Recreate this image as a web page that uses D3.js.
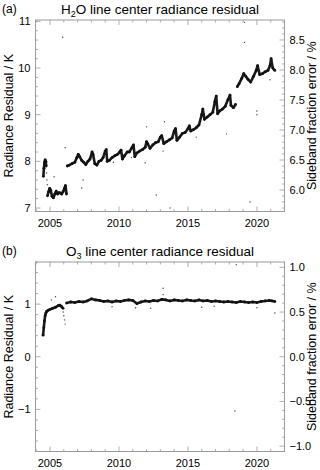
<!DOCTYPE html>
<html>
<head>
<meta charset="utf-8">
<script src="https://cdn.jsdelivr.net/npm/d3@7"></script>
<style>
  body { margin: 0; background: #fff; }
  svg { display: block; font-family: "Liberation Sans", Arial, sans-serif; }
</style>
</head>
<body>
<svg id="chart" width="320" height="470"></svg>
<script>
// H2O residual (K); null breaks the trace
const h2oYears = [
  2004.52, 2004.56, 2004.60, 2004.65, 2004.70, 2004.72, null,
  2004.82, 2004.90, 2004.98, 2005.05, 2005.15, 2005.25, 2005.35, 2005.45, 2005.55,
  2005.65, 2005.75, 2005.85, 2005.95, 2006.05, 2006.12, 2006.20, null,
  2006.25, 2006.40, 2006.60, 2006.80, 2006.95, 2007.05, 2007.15, 2007.30, 2007.45,
  2007.60, 2007.75, 2007.90, 2008.05, 2008.12, 2008.25, 2008.40, 2008.55, 2008.70,
  2008.85, 2009.00, 2009.08, 2009.15, 2009.30, 2009.50, 2009.70, 2009.90, 2010.05,
  2010.15, 2010.25, 2010.40, 2010.60, 2010.75, 2010.95, 2011.05, 2011.15, 2011.30,
  2011.50, 2011.70, 2011.90, 2012.00, 2012.08, 2012.25, 2012.45, 2012.65, 2012.85,
  2013.00, 2013.10, 2013.25, 2013.45, 2013.65, 2013.85, 2014.00, 2014.10, 2014.20,
  2014.40, 2014.60, 2014.80, 2015.00, 2015.10, 2015.20, 2015.40, 2015.60, 2015.80,
  2016.00, 2016.08, 2016.20, 2016.40, 2016.60, 2016.80, 2016.95, 2017.05, 2017.15,
  2017.30, 2017.50, 2017.70, 2017.90, 2018.05, 2018.12, 2018.30, 2018.45, null,
  2018.58, 2018.70, 2018.90, 2019.05, 2019.20, 2019.35, 2019.55, 2019.75, 2019.95,
  2020.05, 2020.20, 2020.40, 2020.60, 2020.80, 2020.95, 2021.03, 2021.15, 2021.30
];
const h2oValues = [
  7.68, 7.85, 7.98, 8.03, 8.00, 7.90, null,
  7.26, 7.35, 7.42, 7.38, 7.25, 7.22, 7.30, 7.36, 7.30,
  7.33, 7.32, 7.30, 7.35, 7.42, 7.48, 7.30, null,
  7.90, 7.92, 7.95, 7.98, 8.08, 8.15, 8.10, 8.02, 7.98,
  7.93, 8.00, 8.05, 8.20, 8.15, 7.95, 7.92, 8.00, 8.02,
  8.08, 8.22, 8.25, 8.00, 8.02, 8.08, 8.12, 8.15, 8.20,
  8.24, 8.05, 8.12, 8.20, 8.20, 8.30, 8.35, 8.10, 8.18,
  8.22, 8.25, 8.30, 8.42, 8.38, 8.28, 8.35, 8.40, 8.42,
  8.52, 8.55, 8.38, 8.42, 8.46, 8.50, 8.65, 8.70, 8.45,
  8.52, 8.60, 8.62, 8.70, 8.76, 8.65, 8.68, 8.72, 8.78,
  9.00, 9.12, 8.90, 8.95, 9.00, 9.05, 9.28, 9.40, 9.02,
  9.08, 9.12, 9.18, 9.32, 9.42, 9.20, 9.15, 9.22, null,
  9.60, 9.66, 9.78, 9.88, 9.82, 9.76, 9.70, 9.82, 9.95,
  10.05, 9.86, 9.88, 9.92, 9.95, 10.05, 10.20, 10.00, 9.95
];
const h2oOutYears = [
  2004.75, 2004.78, 2004.80, 2005.30, 2005.92, 2006.10, 2007.30, 2007.40,
  2011.90, 2012.00, 2012.70, 2013.20, 2013.30, 2013.70, 2017.80, 2019.10,
  2019.10, 2019.50, 2020.00, 2020.00, 2020.95, 2009.60, 2015.60, 2010.90
];
const h2oOutValues = [
  7.75, 7.60, 7.50, 7.67, 10.66, 8.29, 7.43, 7.60,
  7.97, 8.74, 7.28, 8.22, 8.85, 7.00, 8.59, 10.98,
  10.55, 7.13, 9.00, 9.08, 9.75, 7.98, 8.52, 8.08
];

// O3 residual (K)
const o3Years = [
  2004.50, 2004.55, 2004.60, 2004.65, 2004.70, 2004.76, 2004.85, 2005.00, 2005.20,
  2005.40, 2005.60, 2005.72, 2005.85, 2005.95, null,
  2006.20, 2006.50, 2006.80, 2007.10, 2007.40, 2007.70, 2008.00, 2008.30, 2008.60,
  2008.90, 2009.20, 2009.50, 2009.80, 2010.10, 2010.40, 2010.70, 2011.00, 2011.30,
  2011.60, 2011.90, 2012.20, 2012.50, 2012.80, 2013.10, 2013.40, 2013.70, 2014.00,
  2014.30, 2014.60, 2014.90, 2015.20, 2015.50, 2015.80, 2016.10, 2016.40, 2016.70,
  2017.00, 2017.30, 2017.60, 2017.90, 2018.20, 2018.50, 2018.80, 2019.10, 2019.40,
  2019.70, 2020.00, 2020.30, 2020.60, 2020.90, 2021.10, 2021.30
];
const o3Values = [
  0.41, 0.55, 0.68, 0.78, 0.83, 0.86, 0.88, 0.90, 0.92,
  0.94, 0.97, 0.98, 0.95, 0.92, null,
  1.02, 1.04, 1.03, 1.05, 1.04, 1.06, 1.10, 1.08, 1.07,
  1.05, 1.06, 1.04, 1.06, 1.05, 1.07, 1.08, 1.07, 1.01,
  1.04, 1.06, 1.05, 1.07, 1.06, 1.09, 1.08, 1.06, 1.08,
  1.07, 1.06, 1.08, 1.07, 1.06, 1.08, 1.06, 1.07, 1.05,
  1.06, 1.05, 1.04, 1.05, 1.04, 1.03, 1.05, 1.04, 1.03,
  1.04, 1.03, 1.05, 1.06, 1.07, 1.06, 1.05
];
const o3OutYears = [
  2005.40, 2005.95, 2006.00, 2006.05, 2006.10, 2013.20, 2013.20, 2018.40,
  2018.50, 2021.30, 2009.50, 2011.20, 2012.30, 2016.00, 2020.00, 2005.10, 2016.90
];
const o3OutValues = [
  1.14, 0.85, 0.78, 0.70, 0.62, 1.30, 1.18, -1.03,
  1.75, 0.83, 0.95, 0.93, 0.92, 0.94, 0.93, 1.08, 0.96
];

const xTicks = [2005, 2010, 2015, 2020];

const panels = [
  {
    label: "(a)", mol: "H", sub: "2", rest: "O line center radiance residual",
    years: h2oYears, values: h2oValues, outYears: h2oOutYears, outValues: h2oOutValues,
    top: 20, bottom: 211.5,
    left: [6.925, 11.03], leftTicks: [7, 8, 9, 10, 11], leftMinor: 0.2, leftFmt: d3.format("d"),
    right: [5.642, 8.833], rightTicks: [6.0, 6.5, 7.0, 7.5, 8.0, 8.5], rightMinor: 0.1
  },
  {
    label: "(b)", mol: "O", sub: "3", rest: " line center radiance residual",
    years: o3Years, values: o3Values, outYears: o3OutYears, outValues: o3OutValues,
    top: 262, bottom: 451.5,
    left: [-1.8, 1.8], leftTicks: [-1, 0, 1], leftMinor: 0.2, leftFmt: d3.format("d"),
    right: [-1.06, 1.06], rightTicks: [-1.0, -0.5, 0.0, 0.5, 1.0], rightMinor: 0.1
  }
];

const svg = d3.select("#chart");
const L = 35.5, R = 284.5;
const frameColor = "#9a9a9a";
const x = d3.scaleLinear().domain([2003.95, 2022.0]).range([L, R]);

const range = (a, b, s) => {
  const out = [];
  for (let v = Math.ceil(a / s - 1e-9) * s; v <= b + 1e-9; v += s) out.push(+v.toFixed(4));
  return out;
};

panels.forEach((p) => {
  const g = svg.append("g");
  const y = d3.scaleLinear().domain(p.left).range([p.bottom, p.top]);
  const y2 = d3.scaleLinear().domain(p.right).range([p.bottom, p.top]);

  // frame
  g.append("rect")
    .attr("x", L).attr("y", p.top)
    .attr("width", R - L).attr("height", p.bottom - p.top)
    .attr("fill", "none").attr("stroke", frameColor).attr("stroke-width", 1);

  // ticks drawn inward
  const tk = g.append("g").attr("stroke", frameColor).attr("stroke-width", 0.8);
  const xMinor = range(2004, 2022, 1);
  xMinor.forEach((v) => {
    const len = xTicks.includes(v) ? 5 : 2.5;
    tk.append("line").attr("x1", x(v)).attr("x2", x(v)).attr("y1", p.bottom).attr("y2", p.bottom - len);
    tk.append("line").attr("x1", x(v)).attr("x2", x(v)).attr("y1", p.top).attr("y2", p.top + len);
  });
  range(p.left[0], p.left[1], p.leftMinor).forEach((v) => {
    const len = p.leftTicks.some((t) => Math.abs(t - v) < 1e-6) ? 5 : 2.5;
    tk.append("line").attr("x1", L).attr("x2", L + len).attr("y1", y(v)).attr("y2", y(v));
  });
  range(p.right[0], p.right[1], p.rightMinor).forEach((v) => {
    const len = p.rightTicks.some((t) => Math.abs(t - v) < 1e-6) ? 5 : 2.5;
    tk.append("line").attr("x1", R).attr("x2", R - len).attr("y1", y2(v)).attr("y2", y2(v));
  });

  // tick labels
  g.selectAll(".xl").data(xTicks).enter().append("text")
    .attr("x", (d) => x(d)).attr("y", p.bottom + 15)
    .attr("text-anchor", "middle").attr("font-size", 11).text((d) => d);
  g.selectAll(".yl").data(p.leftTicks).enter().append("text")
    .attr("x", L - 5).attr("y", (d) => y(d) + 4)
    .attr("text-anchor", "end").attr("font-size", 11).text(p.leftFmt);
  g.selectAll(".y2l").data(p.rightTicks).enter().append("text")
    .attr("x", R + 5).attr("y", (d) => y2(d) + 4)
    .attr("text-anchor", "start").attr("font-size", 11).text(d3.format(".1f"));

  // axis titles
  const mid = (p.top + p.bottom) / 2;
  g.append("text").attr("transform", `translate(13,${mid}) rotate(-90)`)
    .attr("text-anchor", "middle").attr("font-size", 12.5).text("Radiance Residual / K");
  g.append("text").attr("transform", `translate(316,${mid}) rotate(-90)`)
    .attr("text-anchor", "middle").attr("font-size", 12.5).text("Sideband fraction error / %");

  // panel label and title
  g.append("text").attr("x", 2).attr("y", p.top - 7).attr("font-size", 12).text(p.label);
  const t = g.append("text").attr("x", 160).attr("y", p.top - 6)
    .attr("text-anchor", "middle").attr("font-size", 13.5);
  t.append("tspan").text(p.mol);
  t.append("tspan").attr("font-size", 9).attr("dy", 3).text(p.sub);
  t.append("tspan").attr("dy", -3).text(p.rest);

  // data trace
  const pts = p.years.map((yr, i) => ({ yr, v: p.values[i] }));
  const line = d3.line()
    .defined((d) => d.yr != null && d.v != null)
    .x((d) => x(d.yr)).y((d) => y(d.v));
  g.append("path").attr("d", line(pts))
    .attr("fill", "none").attr("stroke", "#1a1a1a")
    .attr("stroke-width", 2.6).attr("stroke-linejoin", "round");
  g.selectAll(".pt").data(pts.filter((d) => d.v != null)).enter().append("circle")
    .attr("cx", (d) => x(d.yr)).attr("cy", (d) => y(d.v)).attr("r", 1.4).attr("fill", "#111");

  // scattered outliers
  g.selectAll(".out").data(p.outYears.map((yr, i) => ({ yr, v: p.outValues[i] }))).enter()
    .append("circle")
    .attr("cx", (d) => x(d.yr)).attr("cy", (d) => y(d.v))
    .attr("r", 0.7).attr("fill", "#444");
});
</script>
</body>
</html>
